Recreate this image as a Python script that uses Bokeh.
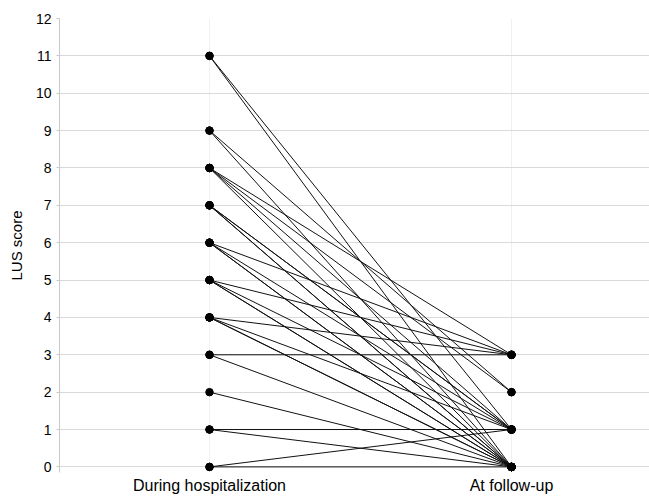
from bokeh.plotting import figure
from bokeh.models import FixedTicker, Range1d
from bokeh.embed import file_html
from bokeh.resources import INLINE

# Data: paired LUS scores (during hospitalization -> at follow-up)
categories = ["During hospitalization", "At follow-up"]
lus_hospital = [11, 11, 9, 9, 8, 8, 8, 8, 7, 7, 7, 7, 6, 6, 6, 6,
                5, 5, 5, 5, 4, 4, 4, 4, 3, 3, 2, 1, 1, 0, 0]
lus_followup = [0, 1, 0, 2, 0, 1, 2, 3, 0, 0, 1, 1, 0, 1, 3, 0,
                0, 1, 3, 0, 0, 1, 3, 0, 3, 0, 0, 1, 0, 1, 0]
y_ticks = list(range(0, 13))

FONT = "Liberation Sans"

p = figure(width=649, height=496, output_backend="svg", toolbar_location=None,
           x_range=Range1d(0.5033, 2.457), y_range=Range1d(-0.15, 12.0),
           min_border_left=59, min_border_top=18, min_border_right=0,
           min_border_bottom=23)
p.outline_line_color = None
p.background_fill_color = "white"

xs = [[1, 2] for _ in lus_hospital]
ys = [[a, b] for a, b in zip(lus_hospital, lus_followup)]
p.multi_line(xs=xs, ys=ys, line_color="#111111", line_width=1.0)

px = [1] * len(lus_hospital) + [2] * len(lus_followup)
py = lus_hospital + lus_followup
p.scatter(x=px, y=py, size=7.5, color="black")

# x axis
p.xaxis.ticker = FixedTicker(ticks=[1, 2])
p.xaxis.major_label_overrides = {1: categories[0], 2: categories[1]}
p.xaxis.axis_line_color = None
p.xaxis.major_tick_line_color = None
p.xaxis.major_tick_in = 0
p.xaxis.major_tick_out = 0
p.xaxis.minor_tick_line_color = None
p.xaxis.major_label_text_font = FONT
p.xaxis.major_label_text_font_size = "16px"
p.xaxis.major_label_text_color = "#000000"
p.xaxis.major_label_standoff = 4

# y axis
p.yaxis.ticker = FixedTicker(ticks=y_ticks)
p.yaxis.axis_line_color = "#c8c8c8"
p.yaxis.major_tick_line_color = "#c8c8c8"
p.yaxis.major_tick_in = 0
p.yaxis.major_tick_out = 3
p.yaxis.minor_tick_line_color = None
p.yaxis.major_label_text_font = FONT
p.yaxis.major_label_text_font_size = "14px"
p.yaxis.major_label_text_color = "#000000"
p.yaxis.major_label_standoff = 5
p.yaxis.axis_label = "LUS score"
p.yaxis.axis_label_text_font = FONT
p.yaxis.axis_label_text_font_size = "15px"
p.yaxis.axis_label_text_font_style = "normal"
p.yaxis.axis_label_text_color = "#000000"
p.yaxis.axis_label_standoff = 8

# grids
p.ygrid.ticker = FixedTicker(ticks=y_ticks)
p.ygrid.grid_line_color = "#d9d9d9"
p.ygrid.grid_line_width = 1
p.xgrid.ticker = FixedTicker(ticks=[1, 2])
p.xgrid.grid_line_color = "#f0f0f0"
p.xgrid.grid_line_width = 1

open("out.html", "w").write(file_html(p, INLINE))
